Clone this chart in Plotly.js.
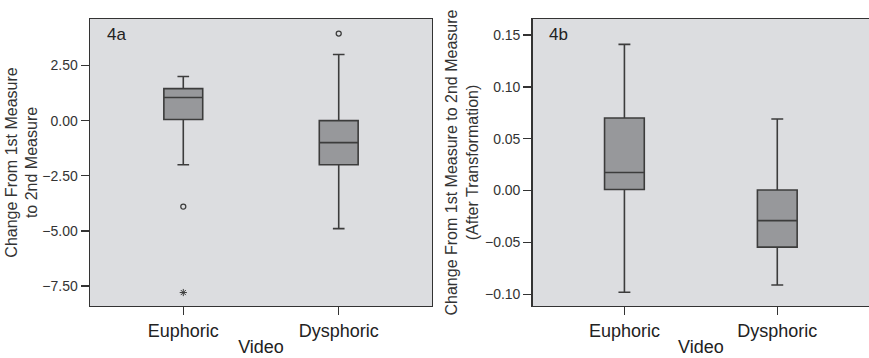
<!DOCTYPE html>
<html>
<head>
<meta charset="utf-8">
<script src="https://cdn.plot.ly/plotly-3.0.1.min.js"></script>
<style>html,body{margin:0;padding:0;background:#fff;}#chart{width:869px;height:358px;}</style>
</head>
<body>
<div id="chart"></div>
<script>
// ---- data ----
const categories = ["Euphoric", "Dysphoric"];

// Panel 4a: change from 1st to 2nd measure
const aLower  = [-2.0, -4.9];
const aQ1     = [0.05, -2.0];
const aMedian = [1.05, -1.0];
const aQ3     = [1.45, 0.0];
const aUpper  = [2.0, 3.0];
const aOutlierCats = ["Euphoric", "Dysphoric"];
const aOutlierVals = [-3.9, 3.95];
const aExtremeCats = ["Euphoric"];
const aExtremeVals = [-7.8];
const aTicks = [2.5, 0, -2.5, -5, -7.5];

// Panel 4b: after transformation
const bLower  = [-0.098, -0.091];
const bQ1     = [0.001, -0.0545];
const bMedian = [0.0175, -0.029];
const bQ3     = [0.070, 0.0005];
const bUpper  = [0.141, 0.069];
const bTicks = [0.15, 0.10, 0.05, 0.00, -0.05, -0.10];

// ---- style ----
const lineCol = "#3c3c3c";
const boxFill = "#97989b";
const bgCol = "#dcdde0";
const font = "Liberation Sans, Arial, sans-serif";

function boxTrace(q1, med, q3, lo, hi, xa, ya, w) {
  return {
    type: "box", x: categories, q1: q1, median: med, q3: q3,
    lowerfence: lo, upperfence: hi,
    xaxis: xa, yaxis: ya, width: w, whiskerwidth: 0.3,
    fillcolor: boxFill, line: {color: lineCol, width: 1.6},
    boxpoints: false, hoverinfo: "skip", showlegend: false
  };
}

const traces = [
  boxTrace(aQ1, aMedian, aQ3, aLower, aUpper, "x", "y", 0.25),
  {type: "scatter", mode: "markers", x: aOutlierCats, y: aOutlierVals, xaxis: "x", yaxis: "y",
   marker: {symbol: "circle-open", size: 5, color: lineCol, line: {width: 1.3, color: lineCol}}, showlegend: false},
  {type: "scatter", mode: "markers", x: aExtremeCats, y: aExtremeVals, xaxis: "x", yaxis: "y",
   marker: {symbol: "asterisk-open", size: 6, color: lineCol, line: {width: 1, color: lineCol}}, showlegend: false},
  boxTrace(bQ1, bMedian, bQ3, bLower, bUpper, "x2", "y2", 0.26)
];

const tickFont = {family: font, size: 14, color: "#333"};
const labFont = {family: font, size: 18, color: "#222"};

function xAxis(dom, anchor) {
  return {
    domain: dom, anchor: anchor, type: "category", range: [-0.6, 1.6],
    showgrid: false, zeroline: false, showline: true, mirror: true,
    linecolor: "#333", linewidth: 1.5,
    ticks: "outside", ticklen: 8, tickcolor: "#333", tickwidth: 1.5,
    tickfont: labFont, fixedrange: true,
    title: {text: "Video", font: labFont, standoff: 0}
  };
}
function yAxis(range, ticks, fmt, title, anchor, mirror, standoff) {
  return {
    domain: [0.1453, 0.9469], anchor: anchor, range: range,
    tickmode: "array", tickvals: ticks, tickformat: fmt,
    showgrid: false, zeroline: false, showline: true, mirror: mirror,
    linecolor: "#333", linewidth: 1.5,
    ticks: "outside", ticklen: 8, tickcolor: "#333", tickwidth: 1.5,
    tickfont: tickFont, fixedrange: true,
    title: {text: title, font: {family: font, size: 16, color: "#333"}, standoff: standoff}
  };
}

const layout = {
  width: 869, height: 358,
  margin: {l: 0, r: 0, t: 0, b: 0},
  paper_bgcolor: "#ffffff",
  plot_bgcolor: bgCol,
  font: {family: font},
  xaxis: xAxis([0.1036, 0.4971], "y"),
  yaxis: yAxis([-8.41, 4.61], aTicks, ".2f", "Change From 1st Measure<br>to 2nd Measure", "x", true, 0),
  xaxis2: xAxis([0.613, 1.0], "y2"),
  yaxis2: yAxis([-0.1113, 0.1655], bTicks, ".2f", "Change From 1st Measure to 2nd Measure<br>(After Transformation)", "x2", false, 2),
  annotations: [
    {text: "4a", xref: "x domain", yref: "y domain", x: 0.045, y: 0.985, xanchor: "left", yanchor: "top",
     showarrow: false, font: {family: font, size: 17, color: "#222"}},
    {text: "4b", xref: "x2 domain", yref: "y2 domain", x: 0.043, y: 0.985, xanchor: "left", yanchor: "top",
     showarrow: false, font: {family: font, size: 17, color: "#222"}}
  ]
};

Plotly.newPlot("chart", traces, layout, {displayModeBar: false, staticPlot: true});
</script>
</body>
</html>
